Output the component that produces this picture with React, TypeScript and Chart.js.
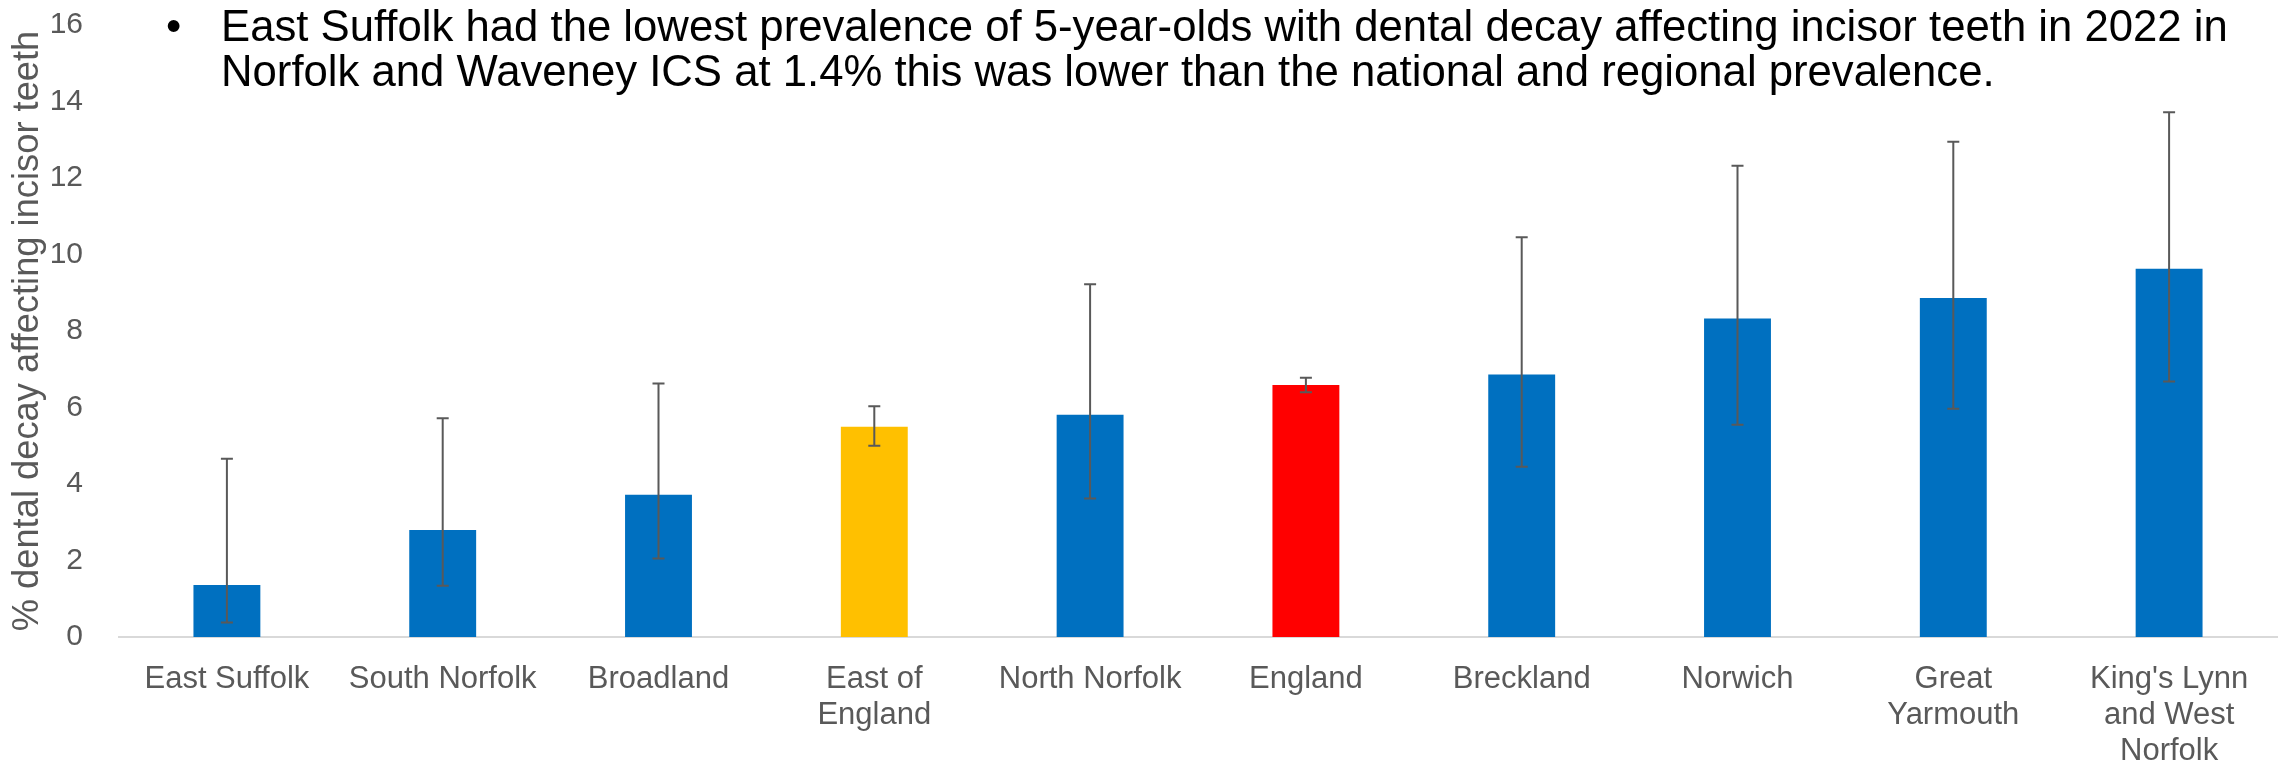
import React, { useEffect, useRef } from "react";
import { Chart, registerables } from "chart.js";

Chart.register(...registerables);

const categories: (string | string[])[] = [
  "East Suffolk",
  "South Norfolk",
  "Broadland",
  ["East of", "England"],
  "North Norfolk",
  "England",
  "Breckland",
  "Norwich",
  ["Great", "Yarmouth"],
  ["King's Lynn", "and West", "Norfolk"],
];
const values = [1.36, 2.8, 3.72, 5.5, 5.81, 6.59, 6.86, 8.33, 8.86, 9.63];
const lowerCI = [0.38, 1.34, 2.05, 5.0, 3.62, 6.4, 4.45, 5.55, 5.97, 6.68];
const upperCI = [4.66, 5.72, 6.63, 6.03, 9.22, 6.78, 10.45, 12.32, 12.95, 13.72];
const barColors = [
  "#0070C0", "#0070C0", "#0070C0", "#FFC000", "#0070C0",
  "#FF0000", "#0070C0", "#0070C0", "#0070C0", "#0070C0",
];
const yMin = 0;
const yMax = 16;
const yStep = 2;
const yAxisTitle = "% dental decay affecting incisor teeth";
const titleLines = [
  "East Suffolk had the lowest prevalence of 5-year-olds with dental decay affecting incisor teeth in 2022 in",
  "Norfolk and Waveney ICS at 1.4% this was lower than the national and regional prevalence.",
];

const FONT = '"Liberation Sans", Arial, sans-serif';

const errorBarPlugin = {
  id: "errorBars",
  afterDatasetsDraw(chart: any) {
    const { ctx, scales } = chart;
    const x = scales.x;
    const y = scales.y;
    ctx.save();
    ctx.strokeStyle = "#595959";
    ctx.lineWidth = 2;
    lowerCI.forEach((lo, i) => {
      const px = x.getPixelForValue(i);
      const yl = y.getPixelForValue(lo);
      const yh = y.getPixelForValue(upperCI[i]);
      ctx.beginPath();
      ctx.moveTo(px, yh);
      ctx.lineTo(px, yl);
      ctx.moveTo(px - 6, yh);
      ctx.lineTo(px + 6, yh);
      ctx.moveTo(px - 6, yl);
      ctx.lineTo(px + 6, yl);
      ctx.stroke();
    });
    ctx.restore();
  },
};

export default function App() {
  const canvasRef = useRef<HTMLCanvasElement | null>(null);

  useEffect(() => {
    document.body.style.margin = "0";
    const canvas = canvasRef.current;
    if (!canvas) return;
    const chart = new Chart(canvas, {
      type: "bar",
      data: {
        labels: categories,
        datasets: [
          {
            data: values,
            backgroundColor: barColors,
            borderWidth: 0,
            barPercentage: 0.31,
            categoryPercentage: 1,
          },
        ],
      },
      options: {
        animation: false,
        responsive: true,
        maintainAspectRatio: false,
        layout: { padding: { top: 25, right: 8, left: 0, bottom: 0 } },
        plugins: {
          legend: { display: false },
          tooltip: { enabled: false },
        },
        scales: {
          x: {
            grid: { display: false, drawTicks: false },
            border: { display: true, color: "#D9D9D9", width: 2 },
            ticks: {
              color: "#595959",
              font: { family: FONT, size: 31, lineHeight: 1.15 },
              padding: 25,
              maxRotation: 0,
              autoSkip: false,
            },
            afterFit(scale: any) {
              scale.height = 125;
            },
          },
          y: {
            min: yMin,
            max: yMax,
            grid: { display: false, drawTicks: false },
            border: { display: false },
            ticks: {
              stepSize: yStep,
              color: "#595959",
              font: { family: FONT, size: 30 },
              padding: 36,
            },
            title: {
              display: true,
              text: yAxisTitle,
              color: "#595959",
              font: { family: FONT, size: 36.3, lineHeight: 1.2 },
              padding: { top: 6, bottom: 0 },
            },
            afterFit(scale: any) {
              scale.width = 119;
              scale.paddingTop = 0;
              scale.paddingBottom = 0;
            },
          },
        },
      },
      plugins: [errorBarPlugin],
    });
    return () => chart.destroy();
  }, []);

  const textStyle: React.CSSProperties = {
    position: "absolute",
    top: 3,
    fontFamily: FONT,
    fontSize: 43.7,
    lineHeight: "45px",
    color: "#000",
    whiteSpace: "nowrap",
  };

  return (
    <div style={{ position: "relative", width: 2285, height: 762 }}>
      <canvas ref={canvasRef} />
      <div style={{ ...textStyle, left: 166 }}>•</div>
      <div style={{ ...textStyle, left: 221 }}>
        {titleLines.map((t, i) => (
          <div key={i}>{t}</div>
        ))}
      </div>
    </div>
  );
}
